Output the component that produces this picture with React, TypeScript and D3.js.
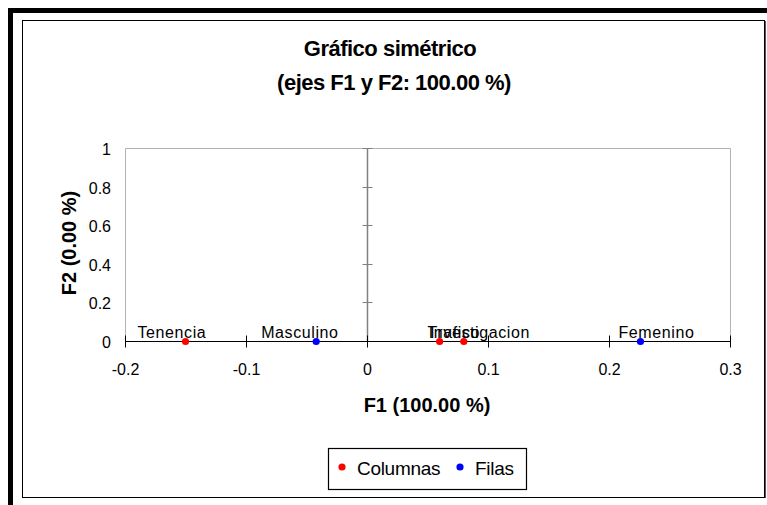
import React from 'react'
import * as d3 from 'd3'

// Puntos del gráfico simétrico (F1, F2)
const colLabels = ['Tenencia', 'Trafico', 'Investigacion']
const colF1 = [-0.150, 0.060, 0.080]
const colF2 = [0, 0, 0]

const rowLabels = ['Masculino', 'Femenino']
const rowF1 = [-0.042, 0.226]
const rowF2 = [0, 0]

const xTicks = [-0.2, -0.1, 0, 0.1, 0.2, 0.3]
const yTicks = [0, 0.2, 0.4, 0.6, 0.8, 1]

const legendItems = ['Columnas', 'Filas']

// label nudges (px) so they sit like the Excel originals
const labelDx: Record<string, number> = {
  Tenencia: -48, Masculino: -55, Trafico: -12, Investigacion: -35, Femenino: -22,
}

const W = 767
const H = 505
const FONT = 'Arial, "Liberation Sans", sans-serif'

export default function App() {
  const svgRef = React.useRef<SVGSVGElement>(null)

  React.useEffect(() => {
    const svg = d3.select(svgRef.current!)
    svg.selectAll('*').remove()

    const x = d3.scaleLinear().domain([-0.2, 0.3]).range([125, 730])
    const y = d3.scaleLinear().domain([0, 1]).range([341, 148])

    svg.append('rect').attr('width', W).attr('height', H).attr('fill', '#fff')

    // outer frames
    svg.append('path').attr('d', `M10.5,${H} V10.5 H${W}`)
      .attr('fill', 'none').attr('stroke', '#000').attr('stroke-width', 5)
    svg.append('rect').attr('x', 22.5).attr('y', 20.5).attr('width', 742).attr('height', 477)
      .attr('fill', '#fff').attr('stroke', '#000').attr('stroke-width', 1)
    svg.append('line').attr('x1', 765.5).attr('x2', 765.5).attr('y1', 21).attr('y2', 498)
      .attr('stroke', '#555').attr('stroke-width', 1)

    // title
    const title = svg.append('text').attr('text-anchor', 'middle')
      .attr('font-family', FONT).attr('font-weight', 700).attr('font-size', 22).attr('fill', '#000')
      .attr('letter-spacing', -0.5)
    title.append('tspan').attr('x', 390).attr('y', 56).text('Gráfico simétrico')
    title.append('tspan').attr('x', 394).attr('y', 90).text('(ejes F1 y F2: 100.00 %)')

    // plot area border
    const [x0, x1] = x.range()
    const [yb, yt] = y.range()
    svg.append('path').attr('d', `M${x0 + 0.5},${yb} V${yt + 0.5} H${x1 + 0.5} V${yb}`)
      .attr('fill', 'none').attr('stroke', '#b3b3b3').attr('stroke-width', 1)

    // y axis at x = 0
    const xz = Math.round(x(0)) + 0.5
    svg.append('line').attr('x1', xz).attr('x2', xz).attr('y1', yt).attr('y2', yb)
      .attr('stroke', '#808080').attr('stroke-width', 1.5)
    yTicks.forEach(t => {
      const ty = Math.round(y(t)) + 0.5
      svg.append('line').attr('x1', xz - 5).attr('x2', xz + 5).attr('y1', ty).attr('y2', ty)
        .attr('stroke', '#808080').attr('stroke-width', 1)
      svg.append('text').attr('x', 111).attr('y', ty + 6).attr('text-anchor', 'end')
        .attr('font-family', FONT).attr('font-size', 16).attr('fill', '#000').text(String(t))
    })

    // x axis at y = 0
    const yz = Math.round(y(0)) + 0.5
    svg.append('line').attr('x1', x0).attr('x2', x1).attr('y1', yz).attr('y2', yz)
      .attr('stroke', '#000').attr('stroke-width', 1)
    xTicks.forEach(t => {
      const tx = Math.round(x(t)) + 0.5
      svg.append('line').attr('x1', tx).attr('x2', tx).attr('y1', yz - 6).attr('y2', yz + 6)
        .attr('stroke', '#000').attr('stroke-width', 1)
      svg.append('text').attr('x', tx).attr('y', 375).attr('text-anchor', 'middle')
        .attr('font-family', FONT).attr('font-size', 16).attr('fill', '#000').text(String(t))
    })

    // axis titles
    svg.append('text').attr('x', 427).attr('y', 412).attr('text-anchor', 'middle')
      .attr('font-family', FONT).attr('font-weight', 700).attr('font-size', 20).text('F1 (100.00 %)')
    svg.append('text').attr('transform', `translate(76,243) rotate(-90)`).attr('text-anchor', 'middle')
      .attr('font-family', FONT).attr('font-weight', 700).attr('font-size', 20).text('F2 (0.00 %)')

    // points + labels
    const cols = colLabels.map((l, i) => ({ l, f1: colF1[i], f2: colF2[i], c: '#ff0000' }))
    const rows = rowLabels.map((l, i) => ({ l, f1: rowF1[i], f2: rowF2[i], c: '#0000ff' }))
    const pts = [...cols, ...rows]
    svg.append('g').selectAll('text').data(pts).join('text')
      .attr('x', d => x(d.f1) + (labelDx[d.l] ?? 0))
      .attr('y', d => y(d.f2) - 3)
      .attr('font-family', FONT).attr('font-size', 16).attr('fill', '#000')
      .attr('letter-spacing', 0.6)
      .text(d => d.l)
    svg.append('g').selectAll('circle').data(pts).join('circle')
      .attr('cx', d => x(d.f1)).attr('cy', d => y(d.f2) + 0.5).attr('r', 3.6)
      .attr('fill', d => d.c)

    // legend
    svg.append('rect').attr('x', 328.5).attr('y', 448.5).attr('width', 198).attr('height', 41)
      .attr('fill', '#fff').attr('stroke', '#000').attr('stroke-width', 1.2)
    const legX = [342, 460]
    const legC = ['#ff0000', '#0000ff']
    legendItems.forEach((l, i) => {
      svg.append('circle').attr('cx', legX[i]).attr('cy', 467).attr('r', 3.6).attr('fill', legC[i])
      svg.append('text').attr('x', legX[i] + 15).attr('y', 475)
        .attr('font-family', FONT).attr('font-size', 19).attr('fill', '#000').attr('letter-spacing', -0.3).text(l)
    })
  }, [])

  return (
    <svg ref={svgRef} width={W} height={H}
      style={{ position: 'absolute', left: 0, top: 0, display: 'block' }} />
  )
}
